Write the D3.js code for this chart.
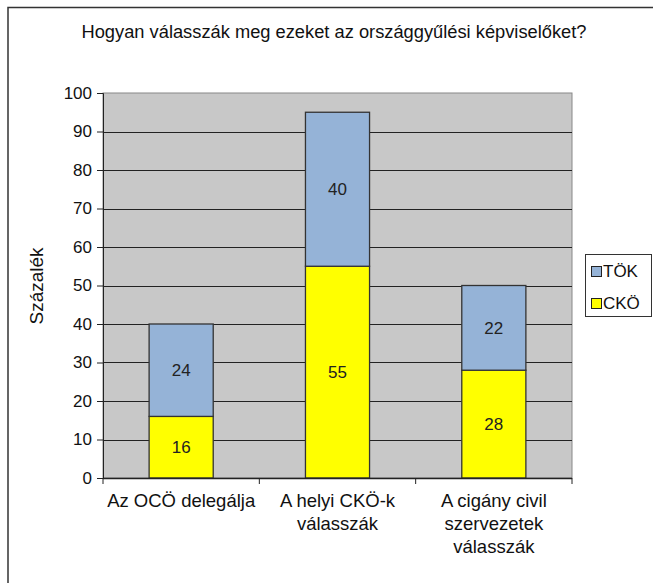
<!DOCTYPE html>
<html><head><meta charset="utf-8">
<script src="https://cdn.jsdelivr.net/npm/d3@7"></script>
<style>body{margin:0;background:#fff;} text{font-family:"Liberation Sans",Arial,sans-serif;fill:#111;}</style>
</head><body>
<svg id="c" width="653" height="583"></svg>
<script>
const categories = [["Az OCÖ delegálja"], ["A helyi CKÖ-k", "válasszák"], ["A cigány civil", "szervezetek", "válasszák"]];
const seriesNames = ["CKÖ", "TÖK"];
const ckoValues = [16, 55, 28];
const tokValues = [24, 40, 22];
const yTicks = [0,10,20,30,40,50,60,70,80,90,100];
const title = "Hogyan válasszák meg ezeket az országgyűlési képviselőket?";
const yTitle = "Százalék";
const colors = {"CKÖ": "#ffff00", "TÖK": "#95b3d7"};

const svg = d3.select("#c");
svg.append("rect").attr("x",8).attr("y",7.5).attr("width",700).attr("height",700)
  .attr("fill","#fff").attr("stroke","#333").attr("stroke-width",1.5);

const m = {l:103, r:572, t:93, b:478};
const x = d3.scaleBand().domain(d3.range(categories.length)).range([m.l,m.r]).paddingInner(0.59).paddingOuter(0.295);
const xb = d3.scaleBand().domain(d3.range(categories.length)).range([m.l,m.r]);
const y = d3.scaleLinear().domain([0,100]).range([m.b,m.t]);

svg.append("rect").attr("x",m.l).attr("y",m.t).attr("width",m.r-m.l).attr("height",m.b-m.t)
  .attr("fill","#c8c8c8").attr("stroke","#888").attr("stroke-width",1);

svg.append("g").selectAll("line").data(yTicks.filter(d=>d>0 && d<100)).join("line")
  .attr("x1",m.l).attr("x2",m.r).attr("y1",d=>Math.round(y(d))+0.5).attr("y2",d=>Math.round(y(d))+0.5)
  .attr("stroke","#222").attr("stroke-width",1);

const data = categories.map((c,i)=>({i, "CKÖ":ckoValues[i], "TÖK":tokValues[i]}));
const stack = d3.stack().keys(seriesNames)(data);

const g = svg.append("g");
stack.forEach(s=>{
  g.selectAll(null).data(s).join("rect")
    .attr("x",(d,i)=>x(i)).attr("width",x.bandwidth())
    .attr("y",d=>y(d[1])).attr("height",d=>y(d[0])-y(d[1]))
    .attr("fill",colors[s.key]).attr("stroke","#333").attr("stroke-width",1.3);
  g.selectAll(null).data(s).join("text")
    .attr("x",(d,i)=>x(i)+x.bandwidth()/2).attr("y",d=>(y(d[0])+y(d[1]))/2)
    .attr("dy","0.36em").attr("text-anchor","middle").attr("font-size",17).style("fill","#222")
    .text(d=>d[1]-d[0]);
});

const ya = svg.append("g").attr("transform",`translate(${m.l},0)`)
  .call(d3.axisLeft(y).tickValues(yTicks).tickSize(6).tickPadding(5));
ya.select(".domain").attr("stroke","#222");
ya.selectAll(".tick line").attr("stroke","#222");
ya.selectAll("text").attr("font-size",17).attr("font-family","Liberation Sans, Arial, sans-serif").style("fill","#111");

svg.append("line").attr("x1",m.l).attr("x2",m.r).attr("y1",m.b+0.5).attr("y2",m.b+0.5).attr("stroke","#222").attr("stroke-width",1.3);
svg.append("g").selectAll("line").data(d3.range(categories.length+1)).join("line")
  .attr("x1",d=>d<categories.length?xb(d):m.r).attr("x2",d=>d<categories.length?xb(d):m.r)
  .attr("y1",m.b).attr("y2",m.b+6).attr("stroke","#222");

categories.forEach((lines,i)=>{
  const t = svg.append("text").attr("text-anchor","middle").attr("font-size",18.5);
  lines.forEach((ln,j)=>{
    t.append("tspan").attr("x",xb(i)+xb.bandwidth()/2).attr("y",507+j*23).text(ln);
  });
});

svg.append("text").attr("x",334).attr("y",38).attr("text-anchor","middle").attr("font-size",18.3).text(title);
svg.append("text").attr("transform","translate(43,286) rotate(-90)").attr("text-anchor","middle").attr("font-size",19).text(yTitle);

const lg = svg.append("g");
lg.append("rect").attr("x",585.5).attr("y",254.5).attr("width",66).attr("height",62).attr("fill","#fff").attr("stroke","#333");
["TÖK","CKÖ"].forEach((k,i)=>{
  lg.append("rect").attr("x",591.5).attr("y",266.5+i*32).attr("width",10).attr("height",10).attr("fill",colors[k]).attr("stroke","#222");
  lg.append("text").attr("x",603).attr("y",277+i*32).attr("font-size",17).text(k);
});
</script>
</body></html>
